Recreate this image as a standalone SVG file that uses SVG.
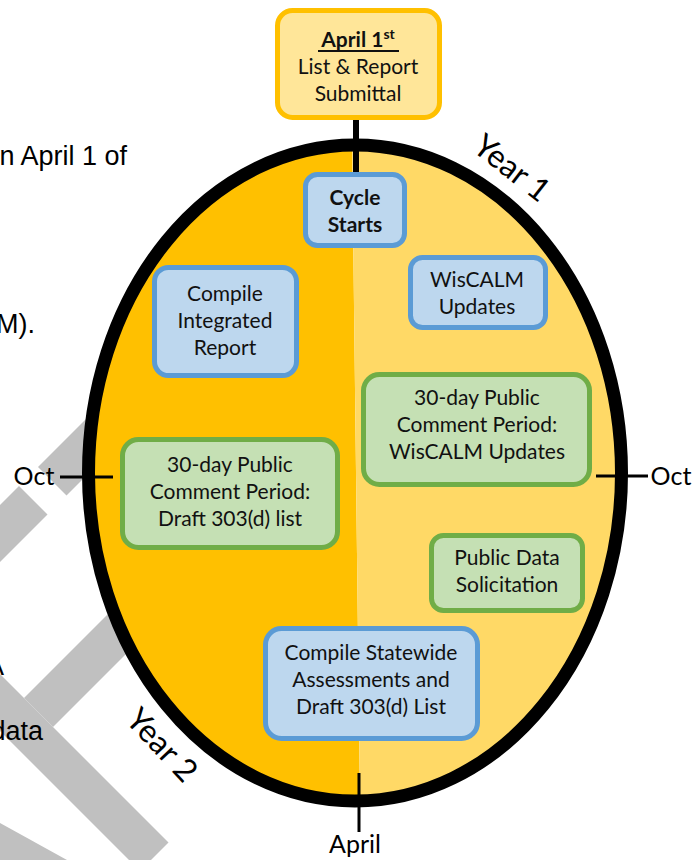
<svg xmlns="http://www.w3.org/2000/svg" width="695" height="860" viewBox="0 0 695 860">
<style>
.doc{font-family:"Liberation Sans",Arial,sans-serif;font-size:27px;fill:#000}
.lbl{font-family:Lato,"Noto Sans",sans-serif;fill:#000;text-anchor:middle}
.bx{font-family:Lato,"Noto Sans",sans-serif;font-size:21px;fill:#111;text-anchor:middle}
.blue{fill:#BDD7EE;stroke:#5B9BD5;stroke-width:5}
.green{fill:#C5E0B4;stroke:#70AD47;stroke-width:5}
.tick{stroke:#000;stroke-width:3}
.stripe{fill:#C0C0C0}
</style>
<defs>
<clipPath id="ell"><ellipse cx="355" cy="473" rx="266.5" ry="328"/></clipPath>
</defs>
<rect width="695" height="860" fill="#fff"/>
<g id="watermark">
<polygon class="stripe" points="38,467 66.5,495.5 231,331 202.5,302.5"/>
<polygon class="stripe" points="19,486 47.5,514.5 -19,581 -47.5,552.5"/>
<polygon class="stripe" points="24,698 53,727 240,540 211,511"/>
<polygon class="stripe" points="-37,637 168.5,842.5 140,871 -65.5,665.5"/>
<polygon class="stripe" points="0,823 67,860 0,860"/>
</g>
<g id="page-text">
<text class="doc" x="127" y="165" text-anchor="end">n April 1 of</text>
<text class="doc" x="35" y="333" text-anchor="end">M).</text>
<text class="doc" x="4" y="675" text-anchor="end">A</text>
<text class="doc" x="43" y="740" text-anchor="end">data</text>
</g>
<g id="cycle">
<g clip-path="url(#ell)">
<polygon points="0,0 352,0 352,140 360,805 360,860 0,860" fill="#FFC000"/>
<polygon points="352,0 695,0 695,860 360,860 360,805 352,140" fill="#FFD966"/>
</g>
<ellipse cx="355" cy="473" rx="266.5" ry="328" fill="none" stroke="#000" stroke-width="13"/>
<text class="lbl" font-size="32" transform="translate(512,168) rotate(38)" dy="11">Year 1</text>
<text class="lbl" font-size="32" transform="translate(162,745) rotate(47)" dy="11">Year 2</text>
</g>
<g id="connectors">
<line x1="356" y1="118" x2="356" y2="176" stroke="#000" stroke-width="6"/>
<line class="tick" x1="60" y1="477" x2="113" y2="477"/>
<line class="tick" x1="596" y1="476" x2="648" y2="476"/>
<line class="tick" x1="359" y1="773" x2="359" y2="832"/>
</g>
<g id="month-labels">
<text class="lbl" font-size="25" x="34" y="485">Oct</text>
<text class="lbl" font-size="25" x="671" y="485">Oct</text>
<text class="lbl" font-size="25" x="355" y="853">April</text>
</g>
<g id="submittal">
<rect x="277.5" y="10.5" width="162" height="107" rx="15" fill="#FFE699" stroke="#FFC000" stroke-width="5"/>
<text class="bx" x="358" y="47" font-weight="bold">April 1<tspan font-size="14" dy="-8">st</tspan></text>
<line x1="318" y1="51" x2="399" y2="51" stroke="#111" stroke-width="2"/>
<text class="bx" x="358" y="74">List &amp; Report</text>
<text class="bx" x="358" y="101">Submittal</text>
</g>
<g id="cycle-starts">
<rect class="blue" x="305.5" y="174.5" width="99" height="71" rx="12"/>
<text class="bx" x="355" y="205" font-weight="bold">Cycle</text>
<text class="bx" x="355" y="232" font-weight="bold">Starts</text>
</g>
<g id="compile-ir">
<rect class="blue" x="154.5" y="267.5" width="142" height="108" rx="14"/>
<text class="bx" x="225" y="301">Compile</text>
<text class="bx" x="225" y="328">Integrated</text>
<text class="bx" x="225" y="355">Report</text>
</g>
<g id="wiscalm">
<rect class="blue" x="410.5" y="257.5" width="135" height="70" rx="12"/>
<text class="bx" x="477" y="287">WisCALM</text>
<text class="bx" x="477" y="314">Updates</text>
</g>
<g id="comment-wiscalm">
<rect class="green" x="363.5" y="374.5" width="226" height="110" rx="16"/>
<text class="bx" x="477" y="405">30-day Public</text>
<text class="bx" x="477" y="432">Comment Period:</text>
<text class="bx" x="477" y="459">WisCALM Updates</text>
</g>
<g id="comment-draft">
<rect class="green" x="122.5" y="439.5" width="215" height="108" rx="16"/>
<text class="bx" x="230" y="472">30-day Public</text>
<text class="bx" x="230" y="499">Comment Period:</text>
<text class="bx" x="230" y="526">Draft 303(d) list</text>
</g>
<g id="data-solicitation">
<rect class="green" x="431.5" y="535.5" width="151" height="75" rx="12"/>
<text class="bx" x="507" y="565">Public Data</text>
<text class="bx" x="507" y="592">Solicitation</text>
</g>
<g id="compile-statewide">
<rect class="blue" x="265.5" y="628.5" width="212" height="110" rx="16"/>
<text class="bx" x="371" y="660">Compile Statewide</text>
<text class="bx" x="371" y="687">Assessments and</text>
<text class="bx" x="371" y="714">Draft 303(d) List</text>
</g>
</svg>
